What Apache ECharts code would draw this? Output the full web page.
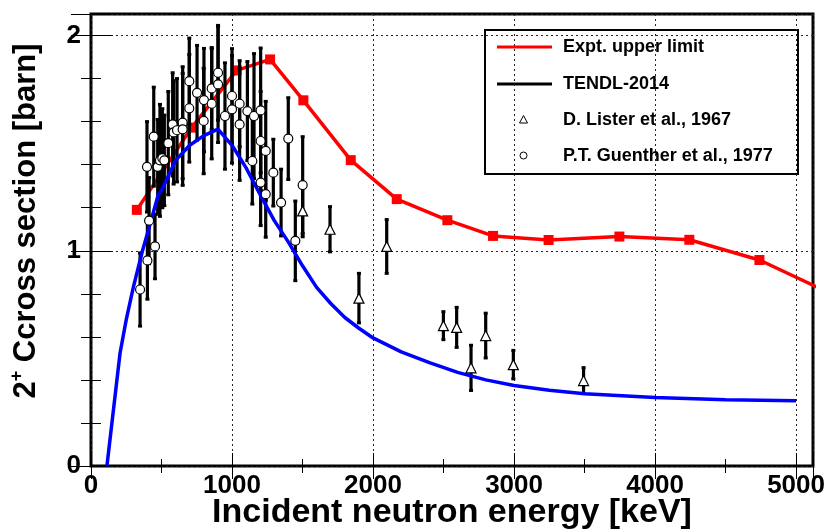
<!DOCTYPE html>
<html>
<head>
<meta charset="utf-8">
<script src="https://cdn.jsdelivr.net/npm/echarts@6/dist/echarts.min.js"></script>
<style>
  html, body { margin: 0; padding: 0; background: #fff; }
  #chart { width: 825px; height: 532px; }
</style>
</head>
<body>
<div id="chart"></div>
<script>
// Expt. upper limit (red squares), keV / barn
const EXPT_E = [325, 714, 1033, 1270, 1506, 1842, 2168, 2527, 2851, 3245, 3747, 4243, 4740, 5250]
const EXPT_XS = [1.19, 1.572, 1.838, 1.889, 1.699, 1.421, 1.24, 1.142, 1.069, 1.05, 1.066, 1.051, 0.957, 0.8]

// TENDL-2014 curve
const TENDL_E = [113, 206, 250, 300, 365, 400, 477, 500, 550, 600, 700, 800, 900, 1000, 1100, 1200, 1300, 1400, 1500, 1600, 1700, 1800, 1900, 2000, 2200, 2400, 2600, 2800, 3000, 3250, 3500, 4000, 4500, 5000]
const TENDL_XS = [0, 0.525, 0.68, 0.83, 1.0, 1.08, 1.26, 1.28, 1.35, 1.42, 1.49, 1.535, 1.565, 1.49, 1.385, 1.26, 1.14, 1.04, 0.93, 0.83, 0.755, 0.69, 0.64, 0.595, 0.53, 0.48, 0.435, 0.4, 0.374, 0.352, 0.336, 0.318, 0.308, 0.303]

// D. Lister et al., 1967
const LISTER_E = [1501, 1695, 1900, 2097, 2499, 2593, 2695, 2799, 2995, 3493]
const LISTER_XS = [1.185, 1.1, 0.78, 1.02, 0.652, 0.644, 0.456, 0.606, 0.471, 0.397]
const LISTER_ERR = [0.12, 0.105, 0.115, 0.125, 0.065, 0.093, 0.105, 0.104, 0.066, 0.06]

// P.T. Guenther et al., 1977
const GUENTHER_E = [348, 400, 412, 454, 397, 445, 473, 489, 506, 520, 548, 579, 586, 610, 650, 650, 697, 697, 752, 801, 799, 856, 856, 901, 901, 950, 1000, 1000, 1054, 1054, 1109, 1144, 1156, 1203, 1203, 1203, 1239, 1239, 1293, 1348, 1399, 1449, 1501]
const GUENTHER_XS = [0.82, 0.955, 1.14, 1.02, 1.39, 1.53, 1.39, 1.42, 1.43, 1.42, 1.5, 1.587, 1.55, 1.56, 1.595, 1.564, 1.788, 1.662, 1.734, 1.7, 1.603, 1.754, 1.683, 1.827, 1.773, 1.626, 1.719, 1.657, 1.683, 1.587, 1.649, 1.417, 1.626, 1.652, 1.51, 1.317, 1.464, 1.263, 1.363, 1.224, 1.521, 1.046, 1.305]
const GUENTHER_ERR = [0.17, 0.18, 0.2, 0.15, 0.21, 0.23, 0.22, 0.26, 0.23, 0.21, 0.24, 0.24, 0.24, 0.24, 0.26, 0.26, 0.2, 0.25, 0.22, 0.24, 0.245, 0.19, 0.256, 0.22, 0.27, 0.247, 0.22, 0.25, 0.2, 0.26, 0.23, 0.2, 0.29, 0.29, 0.23, 0.2, 0.23, 0.2, 0.155, 0.155, 0.19, 0.185, 0.225]

const FONT = "'Liberation Sans', Arial, Helvetica, sans-serif"

const pairs = (xs, ys) => xs.map((x, i) => [x, ys[i]])
const bars = (xs, ys, err) => xs.map((x, i) => [x, ys[i] - err[i], ys[i] + err[i]])

function renderErrorBar(params, api) {
  const lo = api.coord([api.value(0), api.value(1)])
  const hi = api.coord([api.value(0), api.value(2)])
  return {
    type: 'group',
    children: [
      { type: 'line', shape: { x1: lo[0], y1: lo[1], x2: hi[0], y2: hi[1] }, style: { stroke: '#000', lineWidth: 3.2 } },
      { type: 'rect', shape: { x: lo[0] - 2, y: lo[1] - 1.5, width: 4, height: 3 }, style: { fill: '#000' } },
      { type: 'rect', shape: { x: hi[0] - 2, y: hi[1] - 1.5, width: 4, height: 3 }, style: { fill: '#000' } },
    ],
  }
}

const tickStyle = { color: '#000', width: 1 }
const gridLine = { show: true, lineStyle: { color: '#222', type: [2, 3], width: 1 } }

const xBase = {
  type: 'value', min: 0, max: 5120, interval: 1000,
  axisLine: { show: false },
  axisTick: { show: true, inside: true, length: 13, lineStyle: tickStyle },
  minorTick: { show: true, splitNumber: 2, length: 7, lineStyle: tickStyle },
}
const yBase = {
  type: 'value', min: 0, max: 2.1, interval: 1,
  axisLine: { show: false },
  axisTick: { show: true, inside: true, length: 20, lineStyle: tickStyle },
  minorTick: { show: true, splitNumber: 5, length: 10, lineStyle: tickStyle },
}

const chart = echarts.init(document.getElementById('chart'), null, { renderer: 'canvas' })

const option = {
  animation: false,
  backgroundColor: '#fff',
  grid: {
    left: 91, right: 12, top: 14, bottom: 66,
    outerBoundsMode: 'none', containLabel: false,
    show: true, borderColor: '#000', borderWidth: 3, backgroundColor: 'transparent',
  },
  xAxis: [
    {
      ...xBase,
      position: 'bottom',
      splitLine: gridLine,
      axisLabel: { color: '#000', fontSize: 26, fontWeight: 'bold', fontFamily: FONT, margin: 7, showMaxLabel: false, formatter: (v) => String(v) },
      name: 'Incident neutron energy [keV]',
      nameLocation: 'middle',
      nameGap: 30,
      nameMoveOverlap: false,
      nameTextStyle: { color: '#000', fontSize: 34, fontWeight: 'bold', fontFamily: FONT },
    },
    { ...xBase, position: 'top', splitLine: { show: false }, axisLabel: { show: false } },
  ],
  yAxis: [
    {
      ...yBase,
      position: 'left',
      splitLine: gridLine,
      axisLabel: { color: '#000', fontSize: 26, fontWeight: 'bold', fontFamily: FONT, margin: 10, showMaxLabel: false, formatter: (v) => String(v) },
      name: '{b|2}{sup|+}{b| Ccross section [barn]}',
      nameLocation: 'middle',
      nameGap: 47,
      nameMoveOverlap: false,
      nameTextStyle: {
        padding: [0, 0, 0, 38],
        rich: {
          b: { fontSize: 31, fontWeight: 'bold', fontFamily: FONT, color: '#000', lineHeight: 36 },
          sup: { fontSize: 18, fontWeight: 'bold', fontFamily: FONT, color: '#000', verticalAlign: 'top' },
        },
      },
    },
    { ...yBase, position: 'right', splitLine: { show: false }, axisLabel: { show: false } },
  ],
  series: [
    {
      name: 'Expt. upper limit',
      type: 'line',
      data: pairs(EXPT_E, EXPT_XS),
      symbol: 'rect',
      symbolSize: 10,
      itemStyle: { color: '#ff0000' },
      lineStyle: { color: '#ff0000', width: 3.5 },
      clip: true,
      z: 2,
    },
    {
      name: 'Guenther bars',
      type: 'custom',
      data: bars(GUENTHER_E, GUENTHER_XS, GUENTHER_ERR),
      renderItem: renderErrorBar,
      encode: { x: 0, y: [1, 2] },
      z: 3,
    },
    {
      name: 'Lister bars',
      type: 'custom',
      data: bars(LISTER_E, LISTER_XS, LISTER_ERR),
      renderItem: renderErrorBar,
      encode: { x: 0, y: [1, 2] },
      z: 3,
    },
    {
      name: 'TENDL-2014',
      type: 'line',
      data: pairs(TENDL_E, TENDL_XS),
      showSymbol: false,
      symbol: 'none',
      lineStyle: { color: '#0000ff', width: 3.5 },
      z: 4,
    },
    {
      name: 'D. Lister et al., 1967',
      type: 'scatter',
      data: pairs(LISTER_E, LISTER_XS),
      symbol: 'triangle',
      symbolSize: 10,
      itemStyle: { color: '#fff', borderColor: '#000', borderWidth: 1.2, opacity: 1 },
      z: 5,
    },
    {
      name: 'P.T. Guenther et al., 1977',
      type: 'scatter',
      data: pairs(GUENTHER_E, GUENTHER_XS),
      symbol: 'circle',
      symbolSize: 9,
      itemStyle: { color: '#fff', borderColor: '#000', borderWidth: 1.2, opacity: 1 },
      z: 5,
    },
  ],
  graphic: [
    {
      type: 'group',
      z: 100,
      children: [
        { type: 'rect', shape: { x: 485, y: 30, width: 313, height: 144 }, style: { fill: '#fff', stroke: '#000', lineWidth: 2 } },
        { type: 'line', shape: { x1: 497, y1: 47, x2: 552, y2: 47 }, style: { stroke: '#ff0000', lineWidth: 3 } },
        { type: 'line', shape: { x1: 497, y1: 84, x2: 552, y2: 84 }, style: { stroke: '#000', lineWidth: 3 } },
        { type: 'polygon', shape: { points: [[523.5, 115.5], [519.5, 123], [527.5, 123]] }, style: { fill: '#fff', stroke: '#000', lineWidth: 1 } },
        { type: 'circle', shape: { cx: 523.5, cy: 155.5, r: 3.5 }, style: { fill: '#fff', stroke: '#000', lineWidth: 1 } },
        { type: 'text', x: 563, y: 47, style: { text: 'Expt. upper limit', font: 'bold 18px ' + FONT, fill: '#000', verticalAlign: 'middle' } },
        { type: 'text', x: 563, y: 84, style: { text: 'TENDL-2014', font: 'bold 18px ' + FONT, fill: '#000', verticalAlign: 'middle' } },
        { type: 'text', x: 563, y: 120, style: { text: 'D. Lister et al., 1967', font: 'bold 18px ' + FONT, fill: '#000', verticalAlign: 'middle' } },
        { type: 'text', x: 563, y: 156, style: { text: 'P.T. Guenther et al., 1977', font: 'bold 18px ' + FONT, fill: '#000', verticalAlign: 'middle' } },
      ],
    },
  ],
}

chart.setOption(option)
</script>
</body>
</html>
